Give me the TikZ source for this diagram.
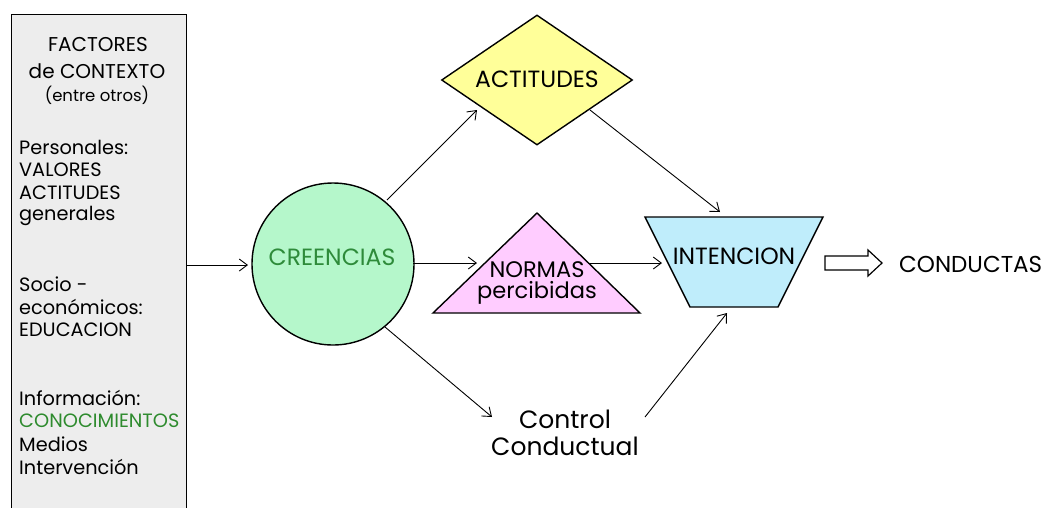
\documentclass[tikz,border=0pt]{standalone}
\usepackage{fontspec}
\setmainfont{Poppins}
\usetikzlibrary{arrows.meta,shapes.geometric}
\definecolor{boxfill}{HTML}{EDEDED}
\definecolor{creefill}{HTML}{B5F7CB}
\definecolor{creetext}{HTML}{2E8B3A}
\definecolor{actfill}{HTML}{FFFF99}
\definecolor{normfill}{HTML}{FFCCFF}
\definecolor{intfill}{HTML}{BFEDFB}
\definecolor{congreen}{HTML}{2E8B2E}
\begin{document}
\begin{tikzpicture}[x=1pt,y=-1pt,
  arr/.style={-{Straight Barb[length=8pt,width=12pt]}, line width=0.9pt},
  shapeline/.style={draw, line width=1.4pt},
  boxtxt/.style={font=\fontsize{19.3}{22}\selectfont, inner sep=0pt, anchor=west},
  shptxt/.style={font=\fontsize{23.5}{27}\selectfont, inner sep=0pt}]
\useasboundingbox (0,0) rectangle (1046,507);
% left box
\node[shapeline, fill=boxfill, anchor=north west, minimum width=175pt, minimum height=520pt, inner sep=0] (box) at (11,14) {};
\node[font=\fontsize{20}{24}\selectfont, inner sep=0] (t1) at (98,45) {FACTORES};
\node[font=\fontsize{20}{24}\selectfont, inner sep=0] (t2) at (97,71) {de CONTEXTO};
\node[font=\fontsize{16.5}{19}\selectfont, inner sep=0] (t3) at (97,95) {(entre otros)};
\node[boxtxt] (p1) at (19,147) {Personales:};
\node[boxtxt] (p2) at (19,170) {VALORES};
\node[boxtxt] (p3) at (19,193) {ACTITUDES};
\node[boxtxt] (p4) at (19,216) {generales};
\node[boxtxt] (s1) at (19,284) {Socio -};
\node[boxtxt] (s2) at (19,307) {económicos:};
\node[boxtxt] (s3) at (19,330) {EDUCACION};
\node[boxtxt] (i1) at (19,398) {Información:};
\node[boxtxt, text=congreen] (i2) at (19,421) {CONOCIMIENTOS};
\node[boxtxt] (i3) at (19,444) {Medios};
\node[boxtxt] (i4) at (19,467) {Intervención};
% creencias
\node[circle, shapeline, fill=creefill, minimum size=162pt, inner sep=0] (cre) at (333,264) {};
\node[shptxt, text=creetext] (cretxt) at (332,257) {CREENCIAS};
% actitudes
\node[diamond, shapeline, fill=actfill, minimum width=191pt, minimum height=130pt, inner sep=0] (act) at (537,80) {};
\node[shptxt] (acttxt) at (537,79) {ACTITUDES};
% normas
\draw[shapeline, fill=normfill] (537,213) -- (640,313) -- (433,313) -- cycle;
\node[shptxt, font=\fontsize{22.5}{26}\selectfont] (nor1) at (537,270) {NORMAS};
\node[shptxt, font=\fontsize{22.5}{26}\selectfont] (nor2) at (537,293) {percibidas};
% intencion
\draw[shapeline, fill=intfill] (645,217) -- (823,217) -- (778,307) -- (690,307) -- cycle;
\node[shptxt] (inttxt) at (734,256) {INTENCION};
% control
\node[shptxt, align=center, font=\fontsize{25}{27}\selectfont] (ctl) at (565,433) {Control\\Conductual};
% conductas
\node[shptxt, anchor=west, font=\fontsize{23}{27}\selectfont] (cond) at (899,264) {CONDUCTAS};
% hollow arrow
\draw[line width=1.2pt, fill=white] (825,256) -- (868,256) -- (868,250) -- (882,263) -- (868,276) -- (868,270) -- (825,270) -- cycle;
% connector coordinates
\coordinate (c1) at (248,265);
\coordinate (a1s) at (387,200);
\coordinate (a1e) at (477,110);
\coordinate (a2s) at (590,110);
\coordinate (a2e) at (720,212);
\coordinate (n1s) at (413,263);
\coordinate (n1e) at (477,263);
\coordinate (n2s) at (588,263);
\coordinate (n2e) at (662,263);
\coordinate (k1s) at (385,327);
\coordinate (k1e) at (492,417);
\coordinate (k2s) at (645,417);
\coordinate (k2e) at (727,313);
\draw[arr] (box.east |- c1) -- (c1);
\draw[arr] (a1s) -- (a1e);
\draw[arr] (a2s) -- (a2e);
\draw[arr] (n1s) -- (n1e);
\draw[arr] (n2s) -- (n2e);
\draw[arr] (k1s) -- (k1e);
\draw[arr] (k2s) -- (k2e);
\end{tikzpicture}
\end{document}
